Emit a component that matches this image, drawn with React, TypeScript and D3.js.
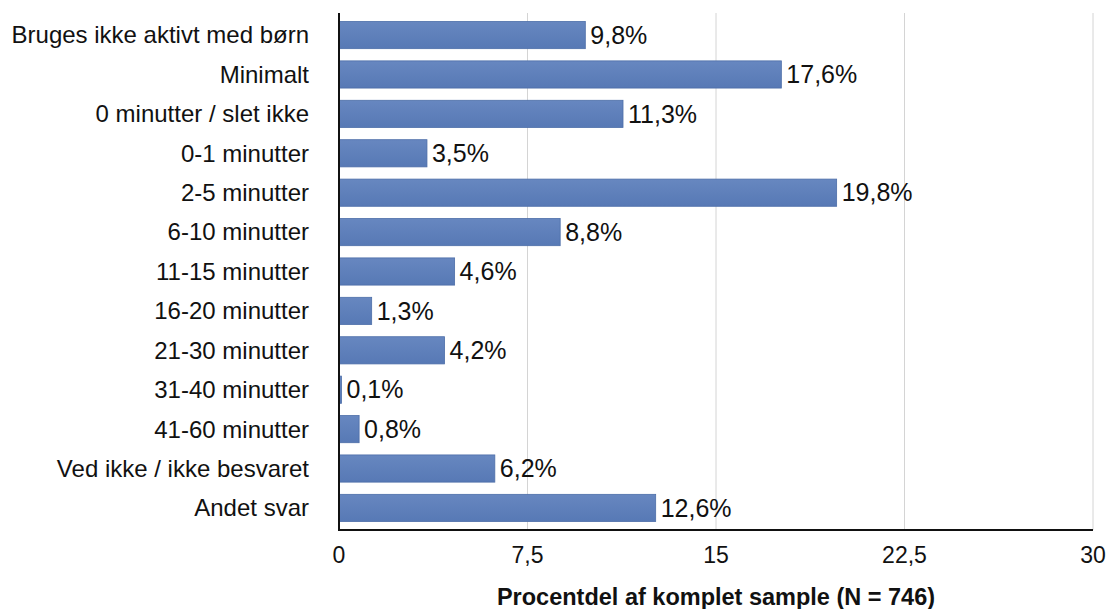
import React from "react";
import * as d3 from "d3";

const categories = [
  "Bruges ikke aktivt med børn",
  "Minimalt",
  "0 minutter / slet ikke",
  "0-1 minutter",
  "2-5 minutter",
  "6-10 minutter",
  "11-15 minutter",
  "16-20 minutter",
  "21-30 minutter",
  "31-40 minutter",
  "41-60 minutter",
  "Ved ikke / ikke besvaret",
  "Andet svar",
];
const values = [9.8, 17.6, 11.3, 3.5, 19.8, 8.8, 4.6, 1.3, 4.2, 0.1, 0.8, 6.2, 12.6];
const ticks = [0, 7.5, 15, 22.5, 30];
const axisTitle = "Procentdel af komplet sample (N = 746)";

const W = 1109;
const H = 609;
const left = 339;
const right = 1093;
const top = 13;
const bottom = 530;
const font = "'Liberation Sans', Arial, Helvetica, sans-serif";

const fmt = (v: number) => String(v).replace(".", ",");

export default function App() {
  const x = d3.scaleLinear().domain([0, 30]).range([left, right]);
  const y = d3
    .scaleBand<string>()
    .domain(categories)
    .range([top, bottom])
    .paddingInner(0.31)
    .paddingOuter(0.215);

  return (
    <svg
      width={W}
      height={H}
      style={{ position: "absolute", left: 0, top: 0, background: "#fff" }}
      fontFamily={font}
    >
      <defs>
        <linearGradient id="barGrad" x1="0" y1="0" x2="0" y2="1">
          <stop offset="0%" stopColor="#6787c0" />
          <stop offset="100%" stopColor="#5779b5" />
        </linearGradient>
      </defs>
      {ticks.slice(1).map((t) => (
        <line
          key={"g" + t}
          x1={x(t)}
          x2={x(t)}
          y1={top}
          y2={bottom}
          stroke="#d4d4d4"
          strokeWidth={1}
        />
      ))}
      {categories.map((c, i) => {
        const yy = y(c)!;
        const bw = y.bandwidth();
        return (
          <g key={c}>
            <rect
              x={x(0)}
              y={yy}
              width={Math.max(x(values[i]) - x(0), 1)}
              height={bw}
              fill="url(#barGrad)"
              stroke="#4d6ea8"
              strokeWidth={0.8}
            />
            <text
              x={left - 30}
              y={yy + bw / 2}
              dy="0.35em"
              textAnchor="end"
              fontSize={24}
              fill="#111"
            >
              {c}
            </text>
            <text
              x={x(values[i]) + 5}
              y={yy + bw / 2}
              dy="0.35em"
              textAnchor="start"
              fontSize={25}
              fill="#111"
            >
              {fmt(values[i])}%
            </text>
          </g>
        );
      })}
      <line x1={left} x2={left} y1={top} y2={bottom + 1} stroke="#111" strokeWidth={2} />
      <line x1={left} x2={right} y1={bottom} y2={bottom} stroke="#111" strokeWidth={2} />
      {ticks.map((t) => (
        <text
          key={"t" + t}
          x={x(t)}
          y={555}
          dy="0.35em"
          textAnchor="middle"
          fontSize={23}
          fill="#111"
        >
          {fmt(t)}
        </text>
      ))}
      <text
        x={x(15)}
        y={597}
        dy="0.35em"
        textAnchor="middle"
        fontSize={23.5}
        fontWeight="bold"
        fill="#111"
      >
        {axisTitle}
      </text>
    </svg>
  );
}
